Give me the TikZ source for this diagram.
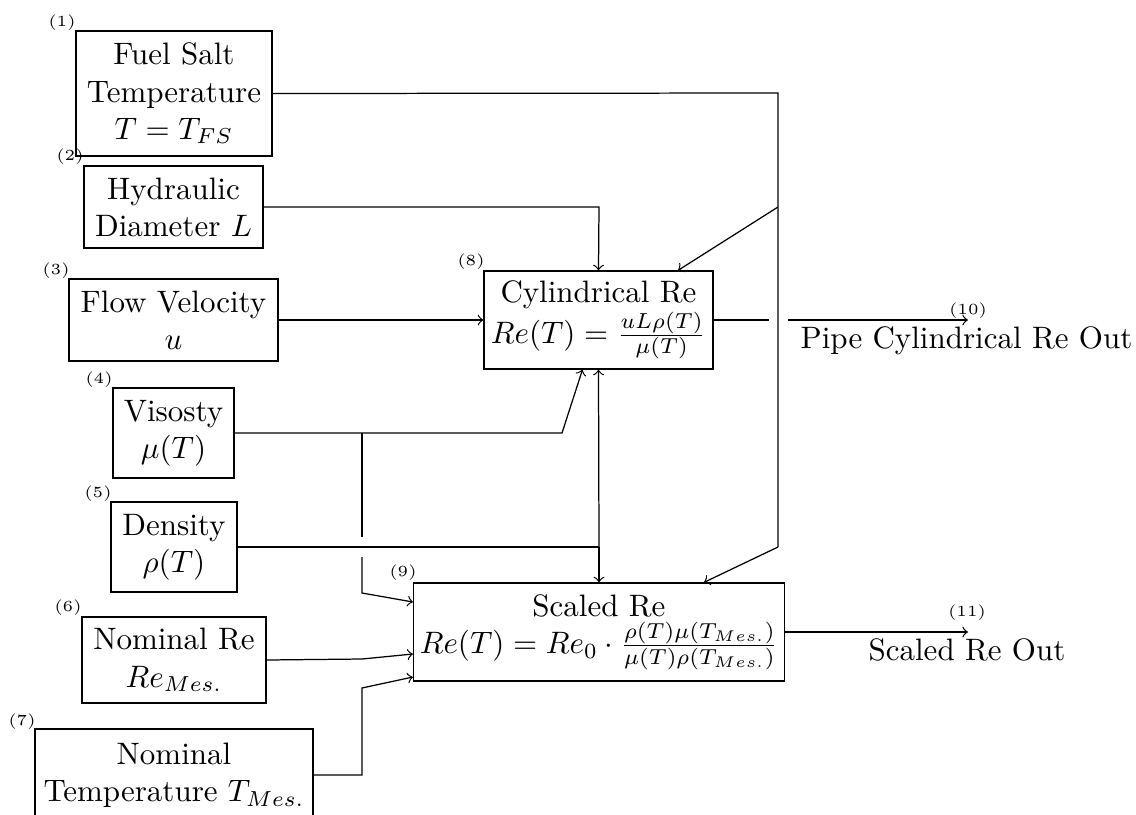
\documentclass[tikz,border=0pt]{standalone}
\usetikzlibrary{calc}
\begin{document}
\begin{tikzpicture}[x=0.3226pt,y=-0.3226pt,
  blk/.style={draw,align=center,inner sep=2pt},
  sz/.style 2 args={minimum width=#1*0.3226pt,minimum height=#2*0.3226pt},
  lab/.style={font=\tiny,inner sep=0pt},
  outtxt/.style={anchor=north,inner sep=2pt}]
\useasboundingbox (0,0) rectangle (1136,814);

% input blocks
\node[blk,sz={196}{125}] (n1) at (174,93.5) {Fuel Salt\\Temperature\\$T=T_{FS}$};
\node[blk,sz={179}{82}]  (n2) at (173.5,207) {Hydraulic\\Diameter $L$};
\node[blk,sz={209}{82}]  (n3) at (173.5,320) {Flow Velocity\\$u$};
\node[blk,sz={121}{90}]  (n4) at (173.5,433) {Visosty\\$\mu(T)$};
\node[blk,sz={126}{90}]  (n5) at (174,547) {Density\\$\rho(T)$};
\node[blk,sz={184}{86}]  (n6) at (174,660) {Nominal Re\\$Re_{Mes.}$};
\node[blk,sz={278}{92}]  (n7) at (174,775) {Nominal\\Temperature $T_{Mes.}$};

% computation blocks
\node[blk,sz={229}{98}] (n8) at (598.5,320)
  {Cylindrical Re\\$Re(T)=\frac{uL\rho(T)}{\mu(T)}$};
\node[blk,sz={366}{98}] (n9) at (599,632)
  {Scaled Re\\$Re(T)=Re_0\cdot\frac{\rho(T)\mu(T_{Mes.})}{\mu(T)\rho(T_{Mes.})}$};

% outputs
\coordinate (t10) at (968,320);
\coordinate (t11) at (968,632);
\node[outtxt] (o10) at (966.5,320) {Pipe Cylindrical Re Out};
\node[outtxt] (o11) at (967,632) {Scaled Re Out};

% block numbers
\node[lab] (l1) at (62,23) {(1)};
\node[lab] (l2) at (70,157) {(2)};
\node[lab] (l3) at (56,271) {(3)};
\node[lab] (l4) at (99,380) {(4)};
\node[lab] (l5) at (98,494) {(5)};
\node[lab] (l6) at (68,608) {(6)};
\node[lab] (l7) at (22,722) {(7)};
\node[lab] (l8) at (471,262) {(8)};
\node[lab] (l9) at (403,573) {(9)};
\node[lab] (l10) at (968,311) {(10)};
\node[lab] (l11) at (967,613) {(11)};

% routing points
\coordinate (j1) at (778,93);
\coordinate (j2) at (778,207);
\coordinate (j3) at (778,547);
\coordinate (jL) at (599,207);
\coordinate (jm) at (362,433);
\coordinate (jm2) at (562,433);
\coordinate (g1) at (362,537);
\coordinate (g2) at (362,557);
\coordinate (jm3) at (362,593);
\coordinate (jr) at (599,547);
\coordinate (j6) at (362,659);
\coordinate (j7a) at (362,775);
\coordinate (j7b) at (362,688);
\coordinate (g3) at (769,320);
\coordinate (g4) at (788,320);

% temperature
\draw (n1.east) -- (j1) -- (j3);
\draw[->] (j2) -- ($(n8.north)+(79.5,0)$);
\draw[->] (j3) -- ($(n9.north)+(105,0)$);
% hydraulic diameter
\draw[->] (n2.east) -- (jL) -- (n8.north);
% flow velocity
\draw[->] (n3.east) -- (n8.west);
% viscosity
\draw[->] (n4.east) -- (jm2) -- ($(n8.south)+(-16,0)$);
\draw (jm) -- (g1);
\draw[->] (g2) -- (jm3) -- ($(n9.west)+(0,-30)$);
% density
\draw (n5.east) -- (jr);
\draw[->] (jr) -- (n8.south);
\draw[->] (jr) -- (n9.north);
% nominal values
\draw[->] (n6.east) -- (j6) -- ($(n9.west)+(0,22)$);
\draw[->] (n7.east) -- (j7a) -- (j7b) -- ($(n9.west)+(0,45)$);
% outputs
\draw (n8.east) -- (g3);
\draw[->] (g4) -- (t10);
\draw[->] (n9.east) -- (t11);
\end{tikzpicture}
\end{document}
